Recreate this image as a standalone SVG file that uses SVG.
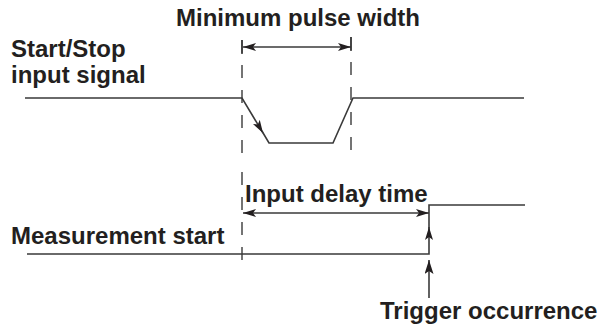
<svg xmlns="http://www.w3.org/2000/svg" width="599" height="329" viewBox="0 0 599 329">
<defs>
<style>
.t{font-family:"Liberation Sans",Arial,sans-serif;font-weight:bold;font-size:24px;fill:#231f20}
.ln{fill:none;stroke:#3a3a3a;stroke-width:1.6}
.ds{fill:none;stroke:#3a3a3a;stroke-width:1.4;stroke-dasharray:13 12}
</style>
<marker id="ah" viewBox="0 0 13 8" refX="13" refY="4" markerWidth="13" markerHeight="8" markerUnits="userSpaceOnUse" orient="auto-start-reverse">
<path d="M0,0 L13,4 L0,8 L3,4 Z" fill="#231f20"/>
</marker>
<marker id="ahb" viewBox="0 0 14 9" refX="14" refY="4.5" markerWidth="14" markerHeight="9" markerUnits="userSpaceOnUse" orient="auto">
<path d="M0,0 L14,4.5 L0,9 L3,4.5 Z" fill="#231f20"/>
</marker>
</defs>
<rect width="599" height="329" fill="#fff"/>
<g id="labels">
<text class="t" x="298" y="26" text-anchor="middle">Minimum pulse width</text>
<text class="t" x="11" y="57">Start/Stop</text>
<text class="t" x="11" y="83">input signal</text>
<text class="t" x="245" y="202">Input delay time</text>
<text class="t" x="11" y="244">Measurement start</text>
<text class="t" x="380" y="319">Trigger occurrence</text>
</g>
<g id="start-stop-signal">
<path class="ln" d="M25,98 H242 L263,133" marker-end="url(#ah)"/>
<path class="ln" d="M262.5,132 L269,143 H333 L353,98 H524"/>
</g>
<g id="measurement-signal">
<path class="ln" d="M27,254 H429 V227" marker-end="url(#ah)"/>
<path class="ln" d="M429,229 V205 H525"/>
</g>
<g id="connectors">
<path class="ds" d="M242,40 V157"/>
<path class="ds" d="M351,37 V157"/>
<path class="ds" d="M242,172 V265"/>
<path class="ln" d="M242,40 V54"/>
<path class="ln" d="M351,37 V51"/>
<path class="ln" d="M243,47 H351" marker-start="url(#ah)" marker-end="url(#ah)"/>
<path class="ln" d="M243,213 H429" marker-start="url(#ah)" marker-end="url(#ah)"/>
<path class="ln" d="M429,298 V260" marker-end="url(#ahb)"/>
</g>
</svg>
